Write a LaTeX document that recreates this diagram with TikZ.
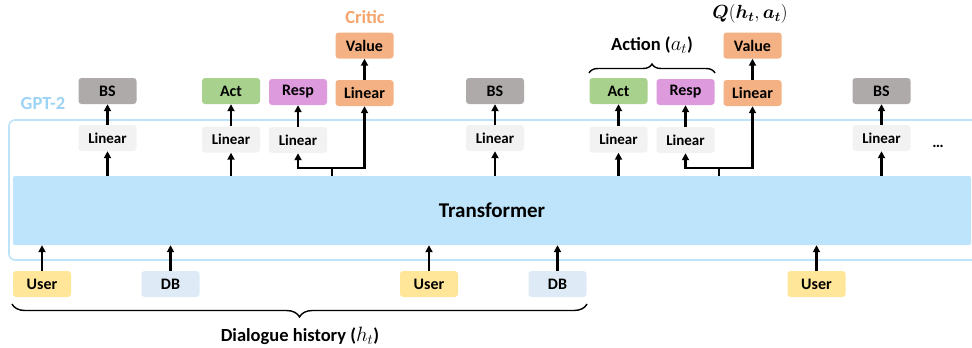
\documentclass[tikz,border=0pt]{standalone}
\usepackage{fontspec}
\setmainfont{Carlito}
\usepackage{bm}
\usepackage{graphicx}
\usetikzlibrary{arrows.meta,decorations.pathreplacing}
\definecolor{cBS}{HTML}{AEAAAA}
\definecolor{cAct}{HTML}{A9D18E}
\definecolor{cResp}{HTML}{DD9BDD}
\definecolor{cOr}{HTML}{F4B183}
\definecolor{cLin}{HTML}{F2F2F2}
\definecolor{cUser}{HTML}{FFE699}
\definecolor{cDB}{HTML}{DEEBF7}
\definecolor{cTr}{HTML}{BDE4FA}
\definecolor{cFrame}{HTML}{BDE3F9}
\definecolor{cGPT}{HTML}{9DD3F7}
\definecolor{cCritic}{HTML}{F4A46C}
\tikzset{
  box/.style={rounded corners=3pt, minimum width=58pt, minimum height=26pt, inner sep=0pt,
    font=\fontsize{16}{18}\selectfont\bfseries, text=black},
  linbox/.style={box, fill=cLin, font=\fontsize{15}{18}\selectfont\bfseries},
  bsbox/.style={box, fill=cBS},
  actbox/.style={box, fill=cAct},
  respbox/.style={box, fill=cResp},
  orbox/.style={box, fill=cOr},
  userbox/.style={box, fill=cUser},
  dbbox/.style={box, fill=cDB},
  arr/.style={line width=2.2pt, -{Triangle[length=7pt,width=7pt]}},
  plain/.style={line width=2.2pt},
  lab/.style={font=\fontsize{18.5}{22}\selectfont\bfseries, inner sep=0pt},
  brc/.style={line width=1.4pt, decorate}
}
\begin{document}
\begin{tikzpicture}[x=1pt,y=-1pt]
\useasboundingbox (0,0) rectangle (972,348);
% GPT-2 frame
\draw[cFrame, line width=1.6pt, rounded corners=6pt] (976,120) -- (9,120) -- (9,260) -- (976,260);
\node[lab, text=cGPT] (gpt) at (43,103) {GPT-2};
% Transformer
\node[fill=cTr, rounded corners=2pt, minimum width=958pt, minimum height=69pt, inner sep=0pt,
  font=\fontsize{21}{24}\selectfont\bfseries] (T) at (492,210.5) {Transformer};
% group 1
\node[bsbox] (BS1) at (107.5,91) {BS};
\node[linbox] (L1) at (107.5,138) {Linear};
\node[actbox] (A1) at (231,91) {Act};
\node[linbox] (LA1) at (231,139.5) {Linear};
\node[respbox] (R1) at (298,92) {Resp};
\node[linbox] (LR1) at (298,140) {Linear};
\node[orbox] (LO1) at (364.5,93) {Linear};
\node[orbox] (V1) at (364.5,45.5) {Value};
\node[lab, text=cCritic] (critic) at (365,17) {Critic};
% group 2
\node[bsbox] (BS2) at (495,91) {BS};
\node[linbox] (L2) at (495,138) {Linear};
\node[actbox] (A2) at (618.5,91) {Act};
\node[linbox] (LA2) at (618.5,139.5) {Linear};
\node[respbox] (R2) at (685.5,92) {Resp};
\node[linbox] (LR2) at (685.5,140) {Linear};
\node[orbox] (LO2) at (752.5,93) {Linear};
\node[orbox] (V2) at (752.5,45.5) {Value};
\node[lab] (Q) at (750,14) {\scalebox{1.1}{$\bm{Q}(\bm{h_t},\bm{a_t})$}};
\node[lab] (act) at (652,45) {Action (\scalebox{1.2}{$a_t$})};
% group 3
\node[bsbox] (BS3) at (881.5,91) {BS};
\node[linbox] (L3) at (881.5,138) {Linear};
\node[font=\fontsize{16}{18}\selectfont\bfseries, inner sep=0pt] (dots) at (938,146) {…};
% inputs
\node[userbox] (U1) at (42,284) {User};
\node[dbbox] (D1) at (170.5,284) {DB};
\node[userbox] (U2) at (429,284) {User};
\node[dbbox] (D2) at (557.5,284) {DB};
\node[userbox] (U3) at (816.5,284) {User};
\node[lab] (hist) at (300,336) {Dialogue history (\scalebox{1.2}{$h_t$})};
% arrows up from Transformer
\foreach \n in {L1,LA1,L2,LA2,L3} {
  \draw[arr] (\n.south |- T.north) -- (\n.south);
}
\foreach \a/\b in {L1/BS1,LA1/A1,LR1/R1,LO1/V1,L2/BS2,LA2/A2,LR2/R2,LO2/V2,L3/BS3} {
  \draw[arr] (\a.north) -- (\b.south);
}
% branches
\coordinate (j1) at (332,168);
\coordinate (j2) at (719,168);
\draw[plain] (j1 |- T.north) -- (j1);
\draw[arr] (j1) -| (LR1.south);
\draw[arr] (j1) -| (LO1.south);
\draw[plain] (j2 |- T.north) -- (j2);
\draw[arr] (j2) -| (LR2.south);
\draw[arr] (j2) -| (LO2.south);
% inputs
\foreach \n in {U1,D1,U2,D2,U3} {
  \draw[arr] (\n.north) -- (\n.north |- T.south);
}
% braces
\draw[brc, decoration={brace, amplitude=9pt}] (589,73) -- (715,73);
\draw[brc, decoration={brace, amplitude=13pt}] (587,304) -- (12,304);
\end{tikzpicture}
\end{document}
